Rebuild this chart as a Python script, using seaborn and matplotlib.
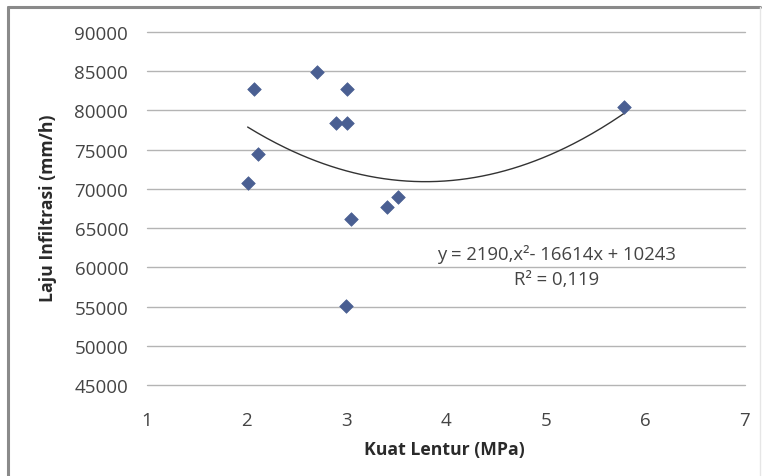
import numpy as np
import pandas as pd
import matplotlib
matplotlib.use("Agg")
import matplotlib.pyplot as plt
import seaborn as sns
from matplotlib.lines import Line2D

# values
kuat_lentur = [2.01, 2.07, 2.11, 2.71, 2.90, 3.01, 3.01, 3.05, 3.00, 3.41, 3.52, 5.79]
laju_infiltrasi = [70800, 82700, 74400, 84900, 78400, 78400, 82700, 66200, 55100, 67700, 69000, 80500]
trend_coef = [2190, -16614, 102430]   # Excel poly(2) trendline
x_ticks = [1, 2, 3, 4, 5, 6, 7]
y_ticks = [45000, 50000, 55000, 60000, 65000, 70000, 75000, 80000, 85000, 90000]

df = pd.DataFrame({"x": kuat_lentur, "y": laju_infiltrasi})

sns.set_style("white")
plt.rcParams["font.family"] = ["Open Sans", "DejaVu Sans"]

fig = plt.figure(figsize=(7.68, 4.77), dpi=100)
ax = fig.add_axes([0.1914, 0.1908, 0.7786, 0.74])

# chart border (top + left dark, right faint)
W, H = 768, 477
fig.lines.append(Line2D([8 / W, 760 / W], [1 - 8 / H, 1 - 8 / H], transform=fig.transFigure,
                        color="#8a8a8a", linewidth=2.2))
fig.lines.append(Line2D([8 / W, 8 / W], [0, 1 - 8 / H], transform=fig.transFigure,
                        color="#8a8a8a", linewidth=2.2))
fig.lines.append(Line2D([760 / W, 760 / W], [0, 1 - 8 / H], transform=fig.transFigure,
                        color="#e6e6e6", linewidth=1.0))

for yv in y_ticks:
    ax.axhline(yv, color="#b4b4b4", linewidth=1.0, zorder=0, clip_on=False)

# trendline over data range
xs = np.linspace(min(kuat_lentur), max(kuat_lentur), 200)
ax.plot(xs, np.polyval(trend_coef, xs), color="#333333", linewidth=1.0, zorder=2)

sns.scatterplot(data=df, x="x", y="y", marker="D", s=48, color="#4a5f92",
                edgecolor="#4a5f92", linewidth=0.5, ax=ax, zorder=3)

ax.set_xlim(1, 7)
ax.set_ylim(45000, 90000)
ax.set_xticks(x_ticks)
ax.set_yticks(y_ticks)
ax.set_xticklabels([str(t) for t in x_ticks])
ax.set_yticklabels([str(t) for t in y_ticks])
for s in ax.spines.values():
    s.set_visible(False)
ax.tick_params(axis="x", length=0, pad=19, labelsize=13.5, labelcolor="#444444")
ax.tick_params(axis="y", length=0, pad=13.5, labelsize=13.5, labelcolor="#444444")

ax.set_xlabel("Kuat Lentur (MPa)", fontsize=12.7, fontweight="bold", color="#2a2a2a", va="center")
ax.set_ylabel("Laju Infiltrasi (mm/h)", fontsize=12.7, fontweight="bold", color="#2a2a2a", va="center")
ax.xaxis.set_label_coords(0.498, -0.181)
ax.yaxis.set_label_coords(-0.1656, 0.504)

ax.text(5.11, 61700, "y = 2190,x\u00b2- 16614x + 10243", ha="center", va="center",
        fontsize=13.3, color="#444444")
ax.text(5.11, 58500, "R\u00b2 = 0,119", ha="center", va="center",
        fontsize=13.3, color="#444444")

fig.savefig("out.png", dpi=100)
